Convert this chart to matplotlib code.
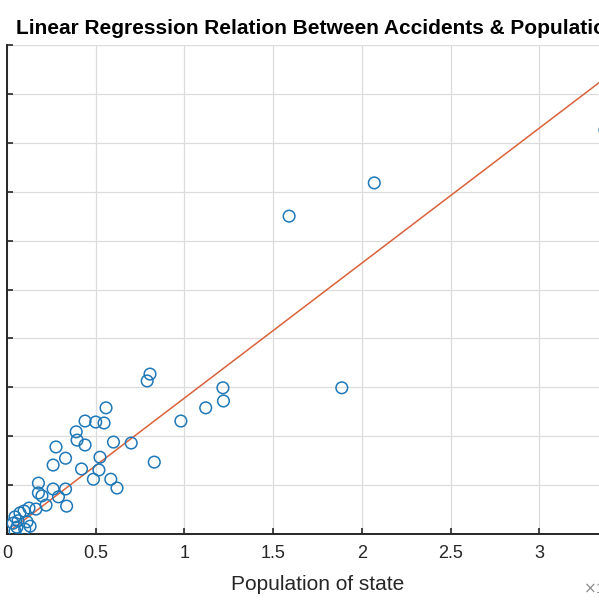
import matplotlib
matplotlib.use("Agg")
from matplotlib import pyplot as plt
import numpy as np

# population (x 10^7) and accidents (axis units, labels cropped off)
population = [2.07, 1.59, 3.37, 0.806, 0.79, 1.217, 1.887, 1.22, 1.12, 0.98, 0.83,
              0.558, 0.44, 0.50, 0.547, 0.39, 0.395, 0.44, 0.60, 0.70, 0.276,
              0.33, 0.524, 0.26, 0.42, 0.518, 0.487, 0.585, 0.62, 0.177, 0.26,
              0.33, 0.177, 0.197, 0.29, 0.336, 0.22, 0.124, 0.163,
              0.045, 0.073, 0.096, 0.034, 0.062, 0.113, 0.045, 0.10, 0.13, 0.056]
accidents = [7.18, 6.50, 8.26, 3.27, 3.13, 2.99, 2.99, 2.72, 2.58, 2.31, 1.47,
             2.58, 2.31, 2.29, 2.27, 2.09, 1.92, 1.82, 1.88, 1.86, 1.78,
             1.55, 1.57, 1.41, 1.33, 1.31, 1.12, 1.12, 0.94, 1.04, 0.92,
             0.92, 0.84, 0.78, 0.76, 0.57, 0.59, 0.53, 0.51,
             0.35, 0.43, 0.47, 0.22, 0.27, 0.25, 0.06, 0.10, 0.16, 0.14]

# regression line (through the origin)
slope = 2.76
intercept = 0.02

plt.rcParams['font.family'] = ['Liberation Sans', 'DejaVu Sans']

fig = plt.figure(figsize=(5.99, 6.0), dpi=100)
ax = fig.add_axes([7/599, 66/600, 621/599, 489/600])

ax.scatter(population, accidents, s=70, facecolors='none', edgecolors='#1f78b8',
           linewidths=1.1, zorder=3)
xs = np.array([min(population), max(population)])
ax.plot(xs, slope*xs + intercept, color='#d9623a', lw=1.1, zorder=2)

ax.set_xlim(0, 3.5)
ax.set_ylim(0, 10)
ax.set_xticks([0, 0.5, 1, 1.5, 2, 2.5, 3, 3.5])
ax.set_xticklabels(['0', '0.5', '1', '1.5', '2', '2.5', '3', '3.5'])
ax.set_yticks(range(11))
ax.grid(True, color='#dcdcdc', lw=0.9)
ax.set_axisbelow(True)
for s in ['top', 'right']:
    ax.spines[s].set_visible(False)
for s in ['left', 'bottom']:
    ax.spines[s].set_color('#262626')
    ax.spines[s].set_linewidth(1.4)
ax.tick_params(direction='in', length=4, width=1.2, color='#262626',
               labelsize=13, labelcolor='#262626', pad=8)

ax.set_title('Linear Regression Relation Between Accidents & Population',
             fontsize=15, fontweight='bold', pad=8)
ax.set_xlabel('Population of state', fontsize=15, color='#262626', labelpad=9)
ax.text(583/599, 12/600, r'$\times$10$^7$', transform=fig.transFigure,
        fontsize=11, color='#8c8c8c', va='center', ha='left')

fig.savefig('out.png', dpi=100)
